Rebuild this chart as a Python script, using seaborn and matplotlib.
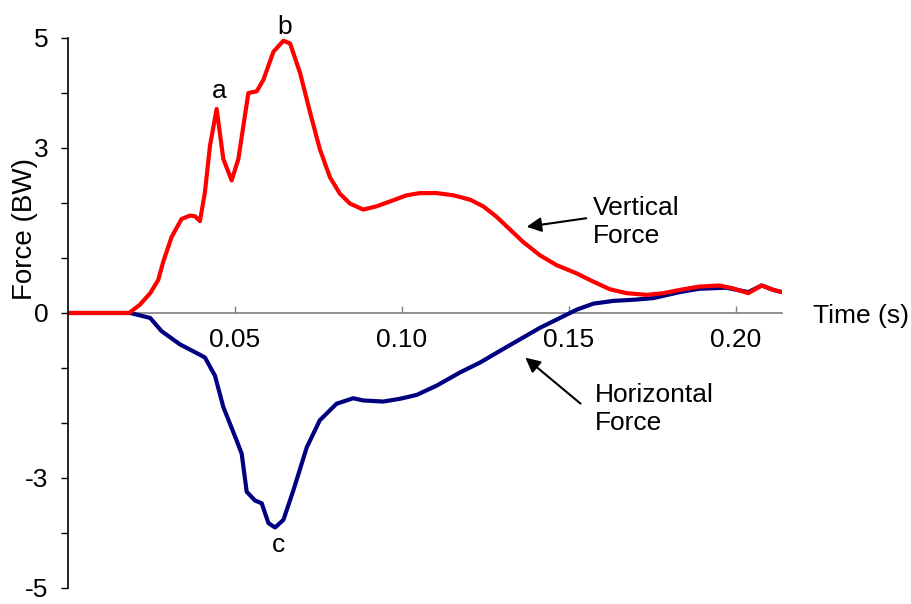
import matplotlib
matplotlib.use('Agg')
import matplotlib.pyplot as plt
import seaborn as sns

# vertical force (BW) vs time (s)
vert_time = [0.0, 0.010, 0.0183, 0.0215, 0.0246, 0.027, 0.0285, 0.031, 0.034, 0.0365,
             0.038, 0.0395, 0.041, 0.0425, 0.0445, 0.0465, 0.049, 0.051, 0.054, 0.0565,
             0.0585, 0.0615, 0.0645, 0.0665, 0.0695, 0.0725, 0.0754, 0.0784, 0.0814, 0.0844,
             0.0884, 0.0924, 0.0974, 0.1014, 0.1054, 0.1104, 0.1154, 0.1204, 0.1243, 0.1283,
             0.1323, 0.1363, 0.1413, 0.1463, 0.1523, 0.1573, 0.1623, 0.1673, 0.1733, 0.1782,
             0.1832, 0.189, 0.195, 0.199, 0.2037, 0.2077, 0.2112, 0.2137]
vert_force = [0.0, 0.0, 0.0, 0.15, 0.36, 0.6, 0.93, 1.38, 1.71, 1.77,
              1.76, 1.67, 2.2, 3.04, 3.71, 2.80, 2.41, 2.80, 4.0, 4.03,
              4.24, 4.75, 4.95, 4.9, 4.36, 3.64, 2.98, 2.47, 2.17, 1.99,
              1.88, 1.94, 2.05, 2.14, 2.18, 2.18, 2.14, 2.06, 1.94, 1.75,
              1.52, 1.29, 1.05, 0.87, 0.72, 0.57, 0.43, 0.36, 0.33, 0.36,
              0.42, 0.48, 0.50, 0.45, 0.36, 0.50, 0.42, 0.38]

# horizontal force (BW) vs time (s)
horiz_time = [0.0, 0.010, 0.0186, 0.0246, 0.028, 0.0335, 0.0395, 0.041, 0.044, 0.0465,
              0.0505, 0.052, 0.0535, 0.056, 0.058, 0.060, 0.062, 0.0645, 0.0675, 0.0715,
              0.0754, 0.0804, 0.0854, 0.0884, 0.0944, 0.0994, 0.1044, 0.1104, 0.1174, 0.1234,
              0.1293, 0.1353, 0.1413, 0.1473, 0.1523, 0.1573, 0.1633, 0.1692, 0.1752, 0.1832,
              0.189, 0.197, 0.2037, 0.2077, 0.2112, 0.2137]
horiz_force = [0.0, 0.0, 0.0, -0.09, -0.33, -0.57, -0.76, -0.81, -1.14, -1.71,
               -2.32, -2.56, -3.25, -3.41, -3.46, -3.82, -3.90, -3.76, -3.22, -2.44,
               -1.95, -1.65, -1.55, -1.59, -1.61, -1.56, -1.49, -1.32, -1.08, -0.90,
               -0.69, -0.48, -0.27, -0.09, 0.06, 0.17, 0.22, 0.24, 0.27, 0.38,
               0.44, 0.46, 0.38, 0.50, 0.42, 0.38]

y_ticks = [-5, -4, -3, -2, -1, 0, 1, 2, 3, 4, 5]
y_tick_labels = ['-5', '', '-3', '', '', '0', '', '', '3', '', '5']
x_ticks = [0.05, 0.10, 0.15, 0.20]
x_tick_labels = ['0.05', '0.10', '0.15', '0.20']

sns.set_style('white')
plt.rcParams['font.family'] = ['Liberation Sans', 'DejaVu Sans']
plt.rcParams['text.color'] = 'black'
plt.rcParams['axes.labelcolor'] = 'black'

fig = plt.figure(figsize=(9.12, 6.04), dpi=100)
ax = fig.add_axes([0.0746, 0.0265, 0.7829, 0.9106])

sns.lineplot(x=horiz_time, y=horiz_force, color='#000080', linewidth=3, ax=ax)
sns.lineplot(x=vert_time, y=vert_force, color='#ff0000', linewidth=3, ax=ax)

ax.set_xlim(0, 0.2138)
ax.set_ylim(-5, 5)

# axis styling: x axis through zero, no box
ax.spines['top'].set_visible(False)
ax.spines['right'].set_visible(False)
ax.spines['bottom'].set_position(('data', 0))
ax.spines['bottom'].set_color('#808080')
ax.spines['bottom'].set_linewidth(1.2)
ax.spines['left'].set_color('black')
ax.spines['left'].set_linewidth(1.2)
ax.spines['bottom'].set_zorder(0)

ax.set_xticks(x_ticks)
ax.set_xticklabels(x_tick_labels)
ax.set_yticks(y_ticks)
ax.set_yticklabels(y_tick_labels)
ax.tick_params(axis='x', direction='in', length=5, width=1, color='#808080',
               labelcolor='black', labelsize=19, pad=11, bottom=True)
ax.tick_params(axis='y', direction='out', length=5, width=1, color='black',
               labelcolor='black', labelsize=19, pad=9, left=True)

ax.set_ylabel('Force (BW)', fontsize=20, va='center')
ax.yaxis.set_label_coords(-0.060, 0.652)
ax.set_xlabel('Time (s)', fontsize=19, ha='left', va='center')
ax.xaxis.set_label_coords(1.043, 0.4946)

# peak labels
ax.text(0.0452, 4.03, 'a', fontsize=19, ha='center', va='center')
ax.text(0.0650, 5.2, 'b', fontsize=19, ha='center', va='center')
ax.text(0.0630, -4.21, 'c', fontsize=19, ha='center', va='center')

# curve labels with arrows
ax.text(0.1572, 1.66, 'Vertical\nForce', fontsize=19, ha='left', va='center',
        linespacing=1.2)
ax.text(0.1578, -1.75, 'Horizontal\nForce', fontsize=19, ha='left', va='center',
        linespacing=1.2)
ax.annotate('', xy=(0.1365, 1.56), xytext=(0.1560, 1.73),
            arrowprops=dict(arrowstyle='-|>', color='black', lw=1.5, mutation_scale=22))
ax.annotate('', xy=(0.1363, -0.78), xytext=(0.1541, -1.68),
            arrowprops=dict(arrowstyle='-|>', color='black', lw=1.5, mutation_scale=22))

fig.savefig('out.png', dpi=100)
